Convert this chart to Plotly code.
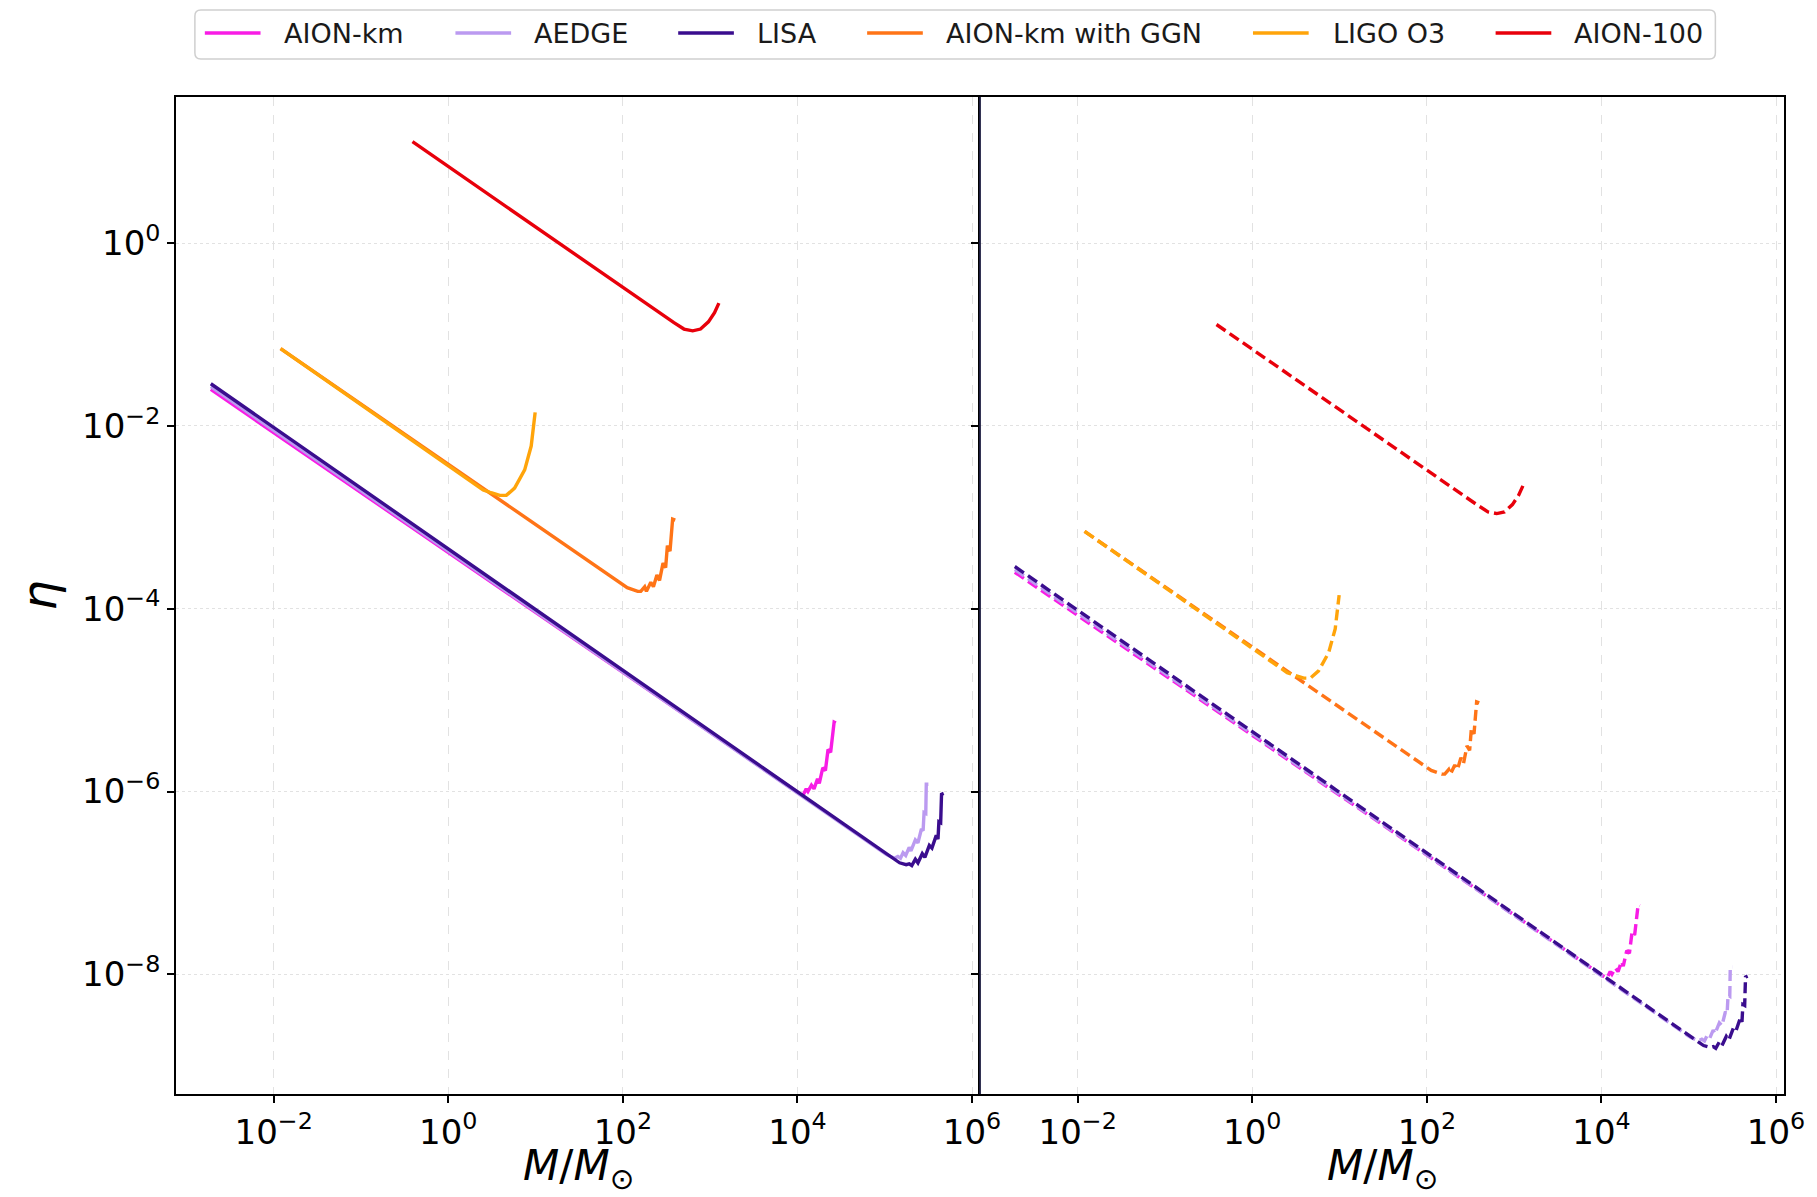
import plotly.graph_objects as go
from plotly.subplots import make_subplots

# ---------------- data ----------------
names = ["AION-km", "AEDGE", "LISA", "AION-km with GGN", "LIGO O3", "AION-100"]
colors = ["#f81ce5", "#bb9af0", "#3a0d8e", "#ff7417", "#ffa40a", "#e8000b"]

M_aion_km = [1.905e-3, 1.122e4, 1.175e4, 1.259e4, 1.318e4, 1.445e4, 1.549e4, 1.698e4,
             1.778e4, 1.95e4, 2.09e4, 2.24e4, 2.40e4, 2.63e4, 2.75e4]
eta_aion_km = [2.51e-2, 9.12e-7, 9.33e-7, 1.07e-6, 1.00e-6, 1.175e-6, 1.07e-6, 1.38e-6,
               1.23e-6, 1.82e-6, 1.70e-6, 2.88e-6, 2.69e-6, 5.75e-6, 5.62e-6]

M_aedge = [1.905e-3, 6.15e4, 1.047e5, 1.288e5, 1.413e5, 1.514e5, 1.622e5, 1.738e5, 1.905e5,
           1.995e5, 2.24e5, 2.40e5, 2.63e5, 2.75e5, 2.82e5, 2.95e5, 2.99e5, 3.16e5]
eta_aedge = [2.69e-2, 2.88e-7, 2.04e-7, 1.86e-7, 1.95e-7, 1.86e-7, 2.14e-7, 2.00e-7, 2.45e-7,
             2.24e-7, 2.95e-7, 2.75e-7, 3.89e-7, 3.72e-7, 5.89e-7, 5.75e-7, 1.20e-6, 1.20e-6]

M_lisa = [1.905e-3, 6.15e4, 1.04e5, 1.479e5, 1.758e5, 1.905e5, 2.04e5, 2.24e5, 2.40e5,
          2.69e5, 2.88e5, 3.24e5, 3.47e5, 3.89e5, 4.07e5, 4.17e5, 4.37e5, 4.47e5, 4.73e5]
eta_lisa = [2.90e-2, 3.02e-7, 2.09e-7, 1.66e-7, 1.585e-7, 1.62e-7, 1.55e-7, 1.82e-7, 1.66e-7,
            2.09e-7, 1.905e-7, 2.57e-7, 2.40e-7, 3.31e-7, 3.02e-7, 4.68e-7, 4.57e-7, 9.33e-7, 9.55e-7]

M_ggn = [1.20e-2, 87.1, 112.2, 147.9, 160.3, 177.8, 186.2, 208.9, 223.9, 245.5, 263.0,
         288.4, 309.0, 323.6, 346.7, 371.5, 398.1]
eta_ggn = [7.02e-2, 2.00e-4, 1.70e-4, 1.55e-4, 1.55e-4, 1.74e-4, 1.55e-4, 1.95e-4, 1.74e-4,
           2.34e-4, 2.04e-4, 3.16e-4, 2.82e-4, 4.90e-4, 4.27e-4, 9.55e-4, 9.33e-4]

M_ligo = [1.20e-2, 2.51, 3.09, 3.89, 4.62, 5.75, 7.50, 8.91, 9.89]
eta_ligo = [7.02e-2, 2.00e-3, 1.86e-3, 1.74e-3, 1.74e-3, 2.09e-3, 3.31e-3, 6.03e-3, 1.41e-2]

M_aion100 = [0.389, 147.9, 245.5, 384.6, 501.0, 631.0, 776.0, 955.0, 1122.0, 1259.0]
eta_aion100 = [12.9, 0.251, 0.178, 0.135, 0.115, 0.110, 0.115, 0.138, 0.174, 0.221]

# right panel shows the same curves two decades lower (dashed)
right_panel_scale = 1e-2

x_tickvals = [1e-2, 1e0, 1e2, 1e4, 1e6]
x_ticktext = ["10<sup>\u22122</sup>", "10<sup>0</sup>", "10<sup>2</sup>", "10<sup>4</sup>", "10<sup>6</sup>"]
y_tickvals = [1e0, 1e-2, 1e-4, 1e-6, 1e-8]
y_ticktext = ["10<sup>0</sup>", "10<sup>\u22122</sup>", "10<sup>\u22124</sup>", "10<sup>\u22126</sup>", "10<sup>\u22128</sup>"]

series = [(M_aion_km, eta_aion_km), (M_aedge, eta_aedge), (M_lisa, eta_lisa),
          (M_ggn, eta_ggn), (M_ligo, eta_ligo), (M_aion100, eta_aion100)]

# ---------------- figure ----------------
W, H = 1817, 1197
L, R, T, B = 176, 24, 97, 103
PW, PH = W - L - R, H - T - B


def px2x(px):
    return (px - L) / PW


def py2y(py):
    return (H - B - py) / PH


FONT = "DejaVu Sans, Verdana, sans-serif"

fig = make_subplots(rows=1, cols=2, shared_yaxes=True, horizontal_spacing=0)

for i, (m, e) in enumerate(series):
    fig.add_trace(go.Scatter(x=m, y=e, mode="lines", name=names[i], showlegend=False,
                             line=dict(color=colors[i], width=3.4)), row=1, col=1)
    fig.add_trace(go.Scatter(x=m, y=[v * right_panel_scale for v in e], mode="lines",
                             name=names[i], showlegend=False,
                             line=dict(color=colors[i], width=3.4, dash="11px,5px")), row=1, col=2)

xcommon = dict(type="log", range=[-3.119, 6.091], tickvals=x_tickvals, ticktext=x_ticktext,
               ticks="outside", ticklen=7, tickwidth=1.5, tickcolor="black",
               showline=True, linecolor="black", linewidth=1.5, mirror=True,
               showgrid=True, gridcolor="#e2e2e2", gridwidth=1, griddash="dash",
               zeroline=False, tickfont=dict(size=34, color="black", family=FONT))
ycommon = dict(type="log", range=[-9.31, 1.60], tickvals=y_tickvals, ticktext=y_ticktext,
               ticks="outside", ticklen=7, tickwidth=1.5, tickcolor="black",
               showline=True, linecolor="black", linewidth=1.5, mirror=True,
               showgrid=True, gridcolor="#e2e2e2", gridwidth=1, griddash="dot",
               zeroline=False, tickfont=dict(size=34, color="black", family=FONT))

fig.update_xaxes(**xcommon)
fig.update_yaxes(**ycommon)
fig.update_yaxes(showticklabels=False, row=1, col=2)
# left panel: no mirrored right edge (the right panel's left edge forms the divider)
fig.update_yaxes(mirror=False, row=1, col=1)

shapes = []
annotations = []

# divider between panels
shapes.append(dict(type="line", xref="paper", yref="paper", x0=0.5, x1=0.5, y0=0, y1=1,
                   line=dict(color="#1c1c40", width=1.8)))

# legend box (rounded)
bx0, bx1, by0, by1, rad = 195, 1724, 10, 59, 6
rx, ry = rad / PW, rad / PH
X0, X1, Y0, Y1 = px2x(bx0), px2x(bx1), py2y(by1), py2y(by0)
path = (f"M {X0+rx},{Y0} L {X1-rx},{Y0} Q {X1},{Y0} {X1},{Y0+ry} L {X1},{Y1-ry} "
        f"Q {X1},{Y1} {X1-rx},{Y1} L {X0+rx},{Y1} Q {X0},{Y1} {X0},{Y1-ry} "
        f"L {X0},{Y0+ry} Q {X0},{Y0} {X0+rx},{Y0} Z")
shapes.append(dict(type="path", xref="paper", yref="paper", path=path,
                   line=dict(color="#cfcfcf", width=1.5), fillcolor="white", layer="above"))

sample_x0 = [205, 457, 681, 871, 1259, 1503]
text_x = [283, 534, 758, 948, 1337, 1580]
legend_y = 33
for i in range(len(names)):
    shapes.append(dict(type="line", xref="paper", yref="paper",
                       x0=px2x(sample_x0[i]), x1=px2x(sample_x0[i] + 56),
                       y0=py2y(legend_y), y1=py2y(legend_y),
                       line=dict(color=colors[i], width=3.6), layer="above"))
    annotations.append(dict(xref="paper", yref="paper", x=px2x(text_x[i]), y=py2y(legend_y),
                            xanchor="left", yanchor="middle", text=names[i], showarrow=False,
                            font=dict(size=27, color="#1a1a1a", family=FONT)))

# axis titles
for xc in (0.25, 0.75):
    annotations.append(dict(xref="paper", yref="paper", x=xc, y=py2y(1168),
                            xanchor="center", yanchor="middle", showarrow=False,
                            text="<i>M</i>/<i>M</i><sub>\u2299</sub>",
                            font=dict(size=42, color="black", family=FONT)))
annotations.append(dict(xref="paper", yref="paper", x=px2x(38), y=py2y(596),
                        xanchor="center", yanchor="middle", showarrow=False, textangle=-90,
                        text="<i>\u03b7</i>", font=dict(size=48, color="black", family=FONT)))

fig.update_layout(width=W, height=H, autosize=False,
                  margin=dict(l=L, r=R, t=T, b=B, pad=0),
                  plot_bgcolor="white", paper_bgcolor="white",
                  font=dict(family=FONT, color="black"),
                  shapes=shapes, annotations=annotations, showlegend=False)

fig.write_html("out.html")
